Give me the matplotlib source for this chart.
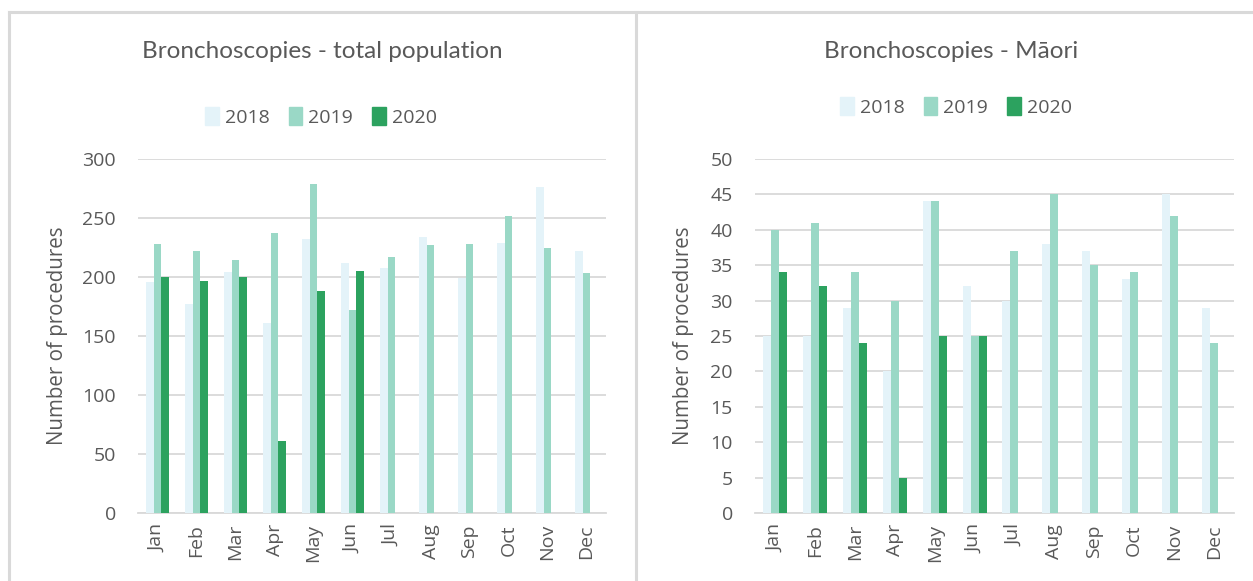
import matplotlib
matplotlib.use("Agg")
import matplotlib.pyplot as plt
import numpy as np
from matplotlib.lines import Line2D

plt.rcParams['font.family'] = ['Open Sans', 'DejaVu Sans']

months = ["Jan", "Feb", "Mar", "Apr", "May", "Jun", "Jul", "Aug", "Sep", "Oct", "Nov", "Dec"]
years = ["2018", "2019", "2020"]

total_2018 = [196, 177, 204, 161, 232, 212, 208, 234, 199, 229, 276, 222]
total_2019 = [228, 222, 214, 237, 279, 172, 217, 227, 228, 252, 225, 203]
total_2020 = [200, 197, 200, 61, 188, 205, None, None, None, None, None, None]

maori_2018 = [25, 25, 29, 20, 44, 32, 30, 38, 37, 33, 45, 29]
maori_2019 = [40, 41, 34, 30, 44, 25, 37, 45, 35, 34, 42, 24]
maori_2020 = [34, 32, 24, 5, 25, 25, None, None, None, None, None, None]

colors = ["#E4F3F9", "#9AD8C6", "#2CA25F"]
text_color = "#595959"
grid_color = "#D9D9D9"

W, H = 1253, 581
fig = plt.figure(figsize=(W / 100, H / 100), dpi=100)


def fx(px):
    return px / W


def fy(py):
    return 1 - py / H


def draw(ax, series, ymax, step, title, title_x, legend_x, legend_y, ylabel_x):
    x = np.arange(len(months))
    bw = 0.2
    for i, (vals, c) in enumerate(zip(series, colors)):
        xs = [xx + (i - 1) * bw for xx, v in zip(x, vals) if v is not None]
        vs = [v for v in vals if v is not None]
        ax.bar(xs, vs, width=bw, color=c, label=years[i], zorder=3, linewidth=0)
    ax.set_xlim(-0.5, len(months) - 0.5)
    ax.set_ylim(0, ymax)
    ax.set_yticks(np.arange(0, ymax + 0.1, step))
    ax.set_xticks(x)
    ax.set_xticklabels(months, rotation=90)
    ax.grid(axis='y', color=grid_color, linewidth=1.3, zorder=0)
    ax.set_axisbelow(True)
    for s in ["top", "right", "left"]:
        ax.spines[s].set_visible(False)
    ax.spines["bottom"].set_color(grid_color)
    ax.spines["bottom"].set_linewidth(1.3)
    ax.tick_params(axis='both', length=0, colors=text_color, labelsize=14)
    ax.tick_params(axis='y', pad=16)
    ax.tick_params(axis='x', pad=8)
    ax.set_ylabel("Number of procedures", color=text_color, fontsize=14.8)
    ax.yaxis.set_label_coords(ylabel_x, 0.5)
    fig.text(fx(title_x), fy(51), title, ha='center', va='center', fontsize=17.5,
             color=text_color, family=['Lato', 'DejaVu Sans'])
    handles = [plt.Rectangle((0, 0), 1, 1, color=c) for c in colors]
    fig.legend(handles, years, loc='center', bbox_to_anchor=(fx(legend_x), fy(legend_y)),
               ncol=3, frameon=False, fontsize=14, labelcolor=text_color,
               handlelength=0.7, handleheight=1.0, handletextpad=0.3, columnspacing=1.0)


ax1 = fig.add_axes([fx(138), fy(513), fx(606 - 138), (513 - 159) / H])
draw(ax1, [total_2018, total_2019, total_2020], 300, 50,
     "Bronchoscopies - total population", 322, 321, 117, -0.15)

ax2 = fig.add_axes([fx(755), fy(513), fx(1234 - 755), (513 - 159) / H])
draw(ax2, [maori_2018, maori_2019, maori_2020], 50, 5,
     "Bronchoscopies - Māori", 951, 956, 107, -0.128)

# panel borders
border = dict(color="#D9D9D9", linewidth=2.2, transform=fig.transFigure)
fig.add_artist(Line2D([fx(9), fx(1253)], [fy(12), fy(12)], **border))
fig.add_artist(Line2D([fx(9), fx(9)], [fy(12), fy(581)], **border))
fig.add_artist(Line2D([fx(636), fx(636)], [fy(12), fy(581)], **border))

fig.savefig("out.png", dpi=100)
